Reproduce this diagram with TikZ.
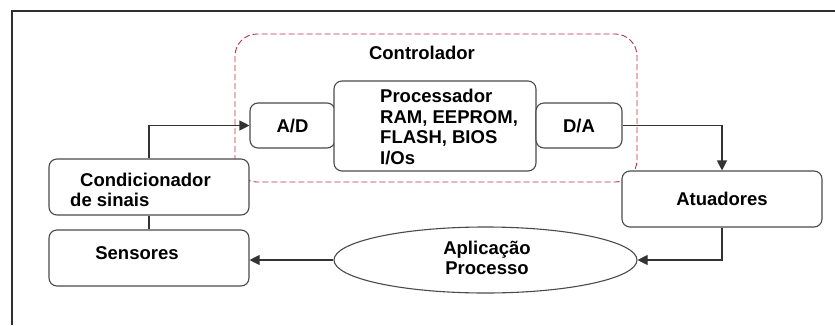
\documentclass[tikz,border=0pt]{standalone}
\usepackage{fontspec}
\setmainfont{Liberation Sans}
\usetikzlibrary{arrows.meta,shapes.geometric}
\definecolor{frameclr}{HTML}{2E2E2E}
\definecolor{boxclr}{HTML}{4A4A4A}
\definecolor{lineclr}{HTML}{333333}
\definecolor{ctrlclr}{HTML}{BB3344}
\tikzset{
  blk/.style={draw=boxclr, line width=1.1pt, rounded corners=8pt, fill=white,
    minimum width=#1, inner sep=0pt},
  lbl/.style={font=\fontsize{18.5}{20.5}\selectfont\bfseries, text=black, inner sep=0pt},
  arr/.style={draw=lineclr, line width=1.1pt,
    -{Triangle[length=10pt,width=10pt]}},
  link/.style={draw=lineclr, line width=1.1pt},
  ctrlbox/.style={draw=ctrlclr, line width=0.9pt, dash pattern=on 6pt off 3pt,
    rounded corners=22pt}
}
\begin{document}
\begin{tikzpicture}[x=1pt,y=-1pt]
\useasboundingbox (0,0) rectangle (835,325);
% outer frame (left and top edges)
\draw[frameclr, line width=2pt] (12,325) -- (12,11) -- (835,11);

% controller region
\draw[ctrlbox] (235,34) rectangle (637,182);
\node[lbl] (ctrltxt) at (422,53) {Controlador};

% blocks
\node[blk=200pt, minimum height=56pt] (cond) at (149,187) {};
\node[lbl, align=left, anchor=west] (condtxt) at (70,190) {\hspace{10pt}Condicionador\\de sinais};

\node[blk=200pt, minimum height=56pt] (sens) at (149,258) {};
\node[lbl] (senstxt) at (137,253) {Sensores};

\node[blk=85pt, minimum height=45pt, lbl] (ad) at (292.5,125.5) {A/D};
\node[blk=202pt, minimum height=90pt] (proc) at (435,126) {};
\node[lbl, align=left, anchor=west] (proctxt) at (380,127) {Processador\\RAM, EEPROM,\\FLASH, BIOS\\I/Os};
\node[blk=86pt, minimum height=45pt, lbl] (da) at (579,125.5) {D/A};

\node[blk=200pt, minimum height=56pt, lbl] (atu) at (722,199) {Atuadores};

\node[ellipse, draw=boxclr, line width=1.1pt, minimum width=303pt, minimum height=66pt,
  inner sep=0pt, fill=white] (app) at (485.5,260) {};
\node[lbl, align=center] (apptxt) at (487,258) {Aplicação\\Processo};

% connections
\draw[arr] (cond.north) |- (ad.west);
\draw[arr] (da.east) -| (atu.north);
\draw[arr] (atu.south) |- (app.east);
\draw[arr] (app.west) -- (sens.east |- app.west);
\draw[link] (cond.south) -- (sens.north);
\end{tikzpicture}
\end{document}
